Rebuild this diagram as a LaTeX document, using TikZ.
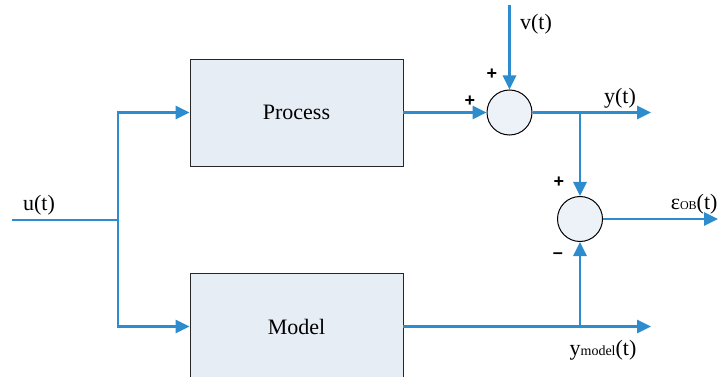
\documentclass[tikz,border=0pt]{standalone}
\usepackage{fontspec}
\setmainfont{Liberation Serif}
\newfontfamily\signfont{Liberation Sans}
\usepackage{tikz}
\usetikzlibrary{positioning, arrows.meta}
\definecolor{linkblue}{RGB}{45,140,205}
\definecolor{blockfill}{RGB}{231,237,244}
\definecolor{sumfill}{RGB}{237,241,248}

\begin{document}
\begin{tikzpicture}[x=1pt, y=-1pt, >={Triangle[length=14pt,width=13pt]},
  every node/.style={font=\fontsize{22}{26}\selectfont},
  block/.style={rectangle,draw=black!85,line width=0.9pt,fill=blockfill,minimum width=213pt,minimum height=107pt,inner sep=0pt},
  junction/.style={circle,draw=black,line width=1pt,fill=sumfill,minimum size=45pt,inner sep=0pt},
  sign/.style={font=\signfont\bfseries\fontsize{18}{18}\selectfont,inner sep=0pt},
  link/.style={linkblue,line width=2.8pt}]

\clip (0,0) rectangle (721,377);

% Blocks
\node[block] at (296.5,112.5) (process) {Process};
\node[block] at (296.5,326.5) (model) {Model};

% Summing junctions
\node[junction] at (509.5,112.5) (sum1) {};
\node[junction] at (580,219) (sum2) {};

% Ends and branch points
\coordinate (uin) at (12,220);
\coordinate (split) at (118,220);
\coordinate (vin) at (509.5,5);
\coordinate (ytap) at (580,112.5);
\coordinate (yout) at (651,112.5);
\coordinate (eout) at (718,219);
\coordinate (mtap) at (580,326.5);
\coordinate (mout) at (651,326.5);

% Signals
\node at (39,205) (ulabel) {u(t)};
\node at (536,24) (vlabel) {v(t)};
\node at (620,98) (ylabel) {y(t)};
\node[anchor=east] at (721,204) (elabel) {ε{\fontsize{12}{12}\selectfont OB}(t)};
\node at (603,350) (mlabel) {y{\fontsize{14}{14}\selectfont model}(t)};

% Signs
\node[sign] at (492,74) (p1) {+};
\node[sign] at (470,101) (p2) {+};
\node[sign] at (559,182) (p3) {+};
\node[sign] at (558,256) (m1) {–};

% Input to both blocks
\draw[link] (uin) -- (split);
\draw[link,->] (split) |- (process);
\draw[link,->] (split) |- (model);

% Process branch
\draw[link,->] (process) -- (sum1);
\draw[link,->] (vin) -- (sum1);
\draw[link,->] (sum1) -- (yout);
\draw[link,->] (ytap) -- (sum2);

% Model branch
\draw[link,->] (model) -- (mout);
\draw[link,->] (mtap) -- (sum2);

% Difference
\draw[link,->] (sum2) -- (eout);

\end{tikzpicture}
\end{document}
